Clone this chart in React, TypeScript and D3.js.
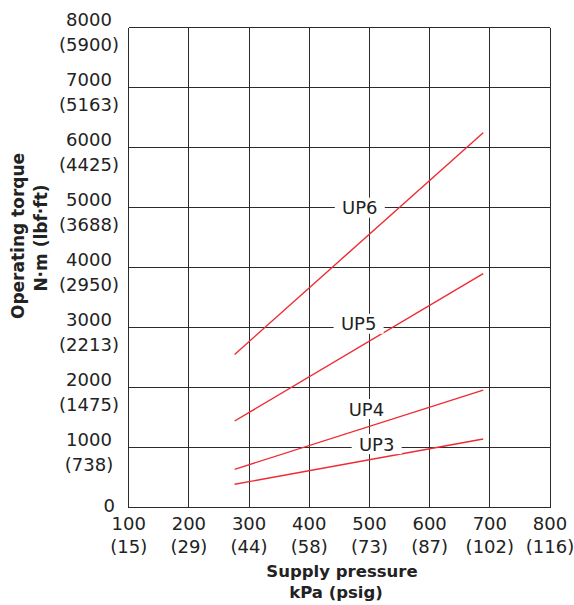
import React from "react";
import * as d3 from "d3";

// supply pressure (kPa) at the two ends of each curve
const pressureKpa = [276, 689];

const seriesNames = ["UP3", "UP4", "UP5", "UP6"];
const torqueUP3 = [390, 1145];
const torqueUP4 = [640, 1960];
const torqueUP5 = [1445, 3900];
const torqueUP6 = [2555, 6250];

// label anchor (data units) for each curve name
const labelX = [512, 495, 482, 484];
const labelY = [1060, 1645, 3065, 5000];

const xTicks = [100, 200, 300, 400, 500, 600, 700, 800];
const xTickSub = ["(15)", "(29)", "(44)", "(58)", "(73)", "(87)", "(102)", "(116)"];
const yTicks = [0, 1000, 2000, 3000, 4000, 5000, 6000, 7000, 8000];
const yTickSub = ["", "(738)", "(1475)", "(2213)", "(2950)", "(3688)", "(4425)", "(5163)", "(5900)"];

const W = 574;
const H = 605;
const margin = { left: 128.7, right: 24, top: 27.7, bottom: 97.3 };
const FONT = "'DejaVu Sans', sans-serif";
const RED = "#ee2a33";
const GRID = "#2b2b2b";

export default function App() {
  const x = d3.scaleLinear().domain([100, 800]).range([margin.left, W - margin.right]);
  const y = d3.scaleLinear().domain([0, 8000]).range([H - margin.bottom, margin.top]);

  const series = [torqueUP3, torqueUP4, torqueUP5, torqueUP6];
  const line = d3
    .line<[number, number]>()
    .x((d) => x(d[0]))
    .y((d) => y(d[1]));

  const plotCx = 342;

  return (
    <svg
      width={W}
      height={H}
      style={{ position: "absolute", left: 0, top: 0, background: "#fff" }}
      fontFamily={FONT}
    >
      <rect width={W} height={H} fill="#fff" />
      {/* grid */}
      <g stroke={GRID} strokeWidth={1} shapeRendering="crispEdges">
        {xTicks.map((t) => (
          <line key={"gx" + t} x1={x(t)} x2={x(t)} y1={y(0)} y2={y(8000)} />
        ))}
        {yTicks.map((t) => (
          <line key={"gy" + t} x1={x(100)} x2={x(800)} y1={y(t)} y2={y(t)} />
        ))}
      </g>

      {/* curves */}
      {series.map((vals, i) => (
        <path
          key={seriesNames[i]}
          d={line(pressureKpa.map((p, j) => [p, vals[j]] as [number, number])) || ""}
          fill="none"
          stroke={RED}
          strokeWidth={1.4}
        />
      ))}

      {/* curve labels */}
      {seriesNames.map((name, i) => (
        <g key={"lab" + name} transform={`translate(${x(labelX[i])},${y(labelY[i])})`}>
          <rect x={-25} y={-10} width={50} height={20} fill="#fff" />
          <text textAnchor="middle" dy={6.5} fontSize={18} fill="#222">
            {name}
          </text>
        </g>
      ))}

      {/* y tick labels */}
      {yTicks.map((t, i) =>
        t === 0 ? (
          <text key={"yt" + t} x={115} y={y(t) + 4} textAnchor="end" fontSize={18} fill="#222">
            {t}
          </text>
        ) : (
          <g key={"yt" + t}>
            <text x={89} y={y(t) - 1.5} textAnchor="middle" fontSize={18} fill="#222">
              {t}
            </text>
            <text x={89} y={y(t) + 23} textAnchor="middle" fontSize={18} fill="#222">
              {yTickSub[i]}
            </text>
          </g>
        )
      )}

      {/* x tick labels */}
      {xTicks.map((t, i) => (
        <g key={"xt" + t}>
          <text x={x(t)} y={530} textAnchor="middle" fontSize={18} fill="#222">
            {t}
          </text>
          <text x={x(t)} y={553} textAnchor="middle" fontSize={18} fill="#222">
            {xTickSub[i]}
          </text>
        </g>
      ))}

      {/* axis titles */}
      <text x={plotCx} y={577} textAnchor="middle" fontSize={16.5} fontWeight="bold" fill="#222">
        Supply pressure
      </text>
      <text x={336} y={597.5} textAnchor="middle" fontSize={16.5} fontWeight="bold" fill="#222">
        kPa (psig)
      </text>
      <g transform="translate(24,236) rotate(-90)">
        <text textAnchor="middle" fontSize={17} fontWeight="bold" fill="#222">
          Operating torque
        </text>
      </g>
      <g transform="translate(46.5,238) rotate(-90)">
        <text textAnchor="middle" fontSize={17} fontWeight="bold" fill="#222">
          N·m (lbf·ft)
        </text>
      </g>
    </svg>
  );
}
